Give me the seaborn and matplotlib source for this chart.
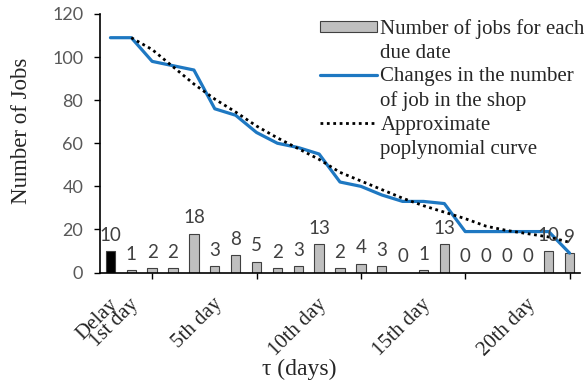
import matplotlib
matplotlib.use("Agg")
import matplotlib.pyplot as plt
import matplotlib.transforms as mtransforms
from matplotlib.lines import Line2D
from matplotlib.patches import Patch
import numpy as np
import pandas as pd
import seaborn as sns

# Due-date categories: delayed jobs, then day 1 .. day 22
days = ["Delay"] + [
    f"{d}{'st' if d % 10 == 1 and d != 11 else 'nd' if d % 10 == 2 and d != 12 else 'rd' if d % 10 == 3 and d != 13 else 'th'} day"
    for d in range(1, 23)
]
jobs_per_due_date = [10, 1, 2, 2, 18, 3, 8, 5, 2, 3, 13, 2, 4, 3, 0, 1, 13, 0, 0, 0, 0, 10, 9]
jobs_in_shop = [109, 109, 98, 96, 94, 76, 73, 65, 60, 58, 55, 42, 40, 36, 33, 33, 32,
                19, 19, 19, 19, 19, 9]
trend_curve = [109, 103.5, 95.5, 87.5, 80.5, 74.5, 68, 62.5, 57.5, 52.5, 46.5, 42.5,
               38.5, 34.5, 31, 28, 25, 21.5, 19.5, 18, 16.5, 14]
shown_labels = ["Delay", "1st day", "5th day", "10th day", "15th day", "20th day"]
y_ticks = [0, 20, 40, 60, 80, 100, 120]

serif = "Liberation Serif"
sans = "Lato"

sns.set_style("ticks")
plt.rcParams["font.family"] = [serif, "DejaVu Sans"]

fig = plt.figure(figsize=(5.86, 3.88), dpi=100)
ax = fig.add_axes([100 / 586, 1 - 272.5 / 388, 480 / 586, (272.5 - 14) / 388])

bars_df = pd.DataFrame({"day": days, "jobs": jobs_per_due_date})
bar_colors = ["black"] + ["#BFBFBF"] * (len(days) - 1)
sns.barplot(data=bars_df, x="day", y="jobs", hue="day", palette=bar_colors,
            legend=False, width=0.45, edgecolor="#404040", linewidth=0.8, ax=ax)

pos = np.arange(len(days))
sns.lineplot(x=pos, y=jobs_in_shop, color="#1E78C2", linewidth=2.3,
             sort=False, estimator=None, ax=ax)
sns.lineplot(x=pos[1:], y=trend_curve, color="black", linewidth=2.0,
             linestyle=(0, (1, 1.3)), sort=False, estimator=None, ax=ax)

# value labels above each bar
for i, v in enumerate(jobs_per_due_date):
    ax.annotate(str(v), (i, v), xytext=(0, 7.5), textcoords="offset points",
                ha="center", va="baseline", fontsize=13.5, color="#404040",
                family=sans)

ax.set_xlim(-0.5, len(days) - 0.5)
ax.set_ylim(0, 120)
ax.set_yticks(y_ticks)
ax.set_yticklabels([str(t) for t in y_ticks], family=sans, fontsize=13, color="#595959")
ax.tick_params(axis="y", length=4, width=1, direction="out", pad=8, color="black")

label_pos = [days.index(l) for l in shown_labels]
ax.set_xticks(label_pos)
ax.set_xticklabels(shown_labels, rotation=45, ha="right", rotation_mode="anchor",
                   fontsize=15, family=serif)
ax.tick_params(axis="x", which="major", length=0, pad=16)
shift = mtransforms.ScaledTranslation(-0.02, 0, fig.dpi_scale_trans)
for lab in ax.get_xticklabels():
    lab.set_transform(lab.get_transform() + shift)
ax.set_xticks(pos[2::5], minor=True)
ax.tick_params(axis="x", which="minor", length=4, width=1, direction="out", color="black")

for s in ["top", "right"]:
    ax.spines[s].set_visible(False)
for s in ["left", "bottom"]:
    ax.spines[s].set_color("black")
    ax.spines[s].set_linewidth(1.2)

ax.set_xlabel("τ (days)", fontsize=17, family=serif)
ax.xaxis.set_label_coords((299 - 100) / 480, -(359 - 272.5) / 258.5)
ax.set_ylabel("Number of Jobs", fontsize=16.5, family=serif)
ax.yaxis.set_label_coords((32 - 100) / 480, (272.5 - 131) / 258.5)

blank = Line2D([], [], color="none")
handles = [
    Patch(facecolor="#BFBFBF", edgecolor="#404040", linewidth=0.8), blank,
    Line2D([], [], color="#1E78C2", linewidth=2.3), blank,
    Line2D([], [], color="black", linewidth=2.0, linestyle=(0, (1, 1.3))), blank,
]
labels = ["Number of jobs for each", "due date",
          "Changes in the number", "of job in the shop",
          "Approximate", "poplynomial curve"]
fig.legend(handles, labels, loc="upper left", bbox_to_anchor=(320 / 586, 1 - 19 / 388),
           frameon=False, prop={"family": serif, "size": 15}, handlelength=2.75,
           handleheight=0.5, handletextpad=0.15, labelspacing=0.23,
           borderpad=0, borderaxespad=0)

fig.savefig("out.png", dpi=100)
